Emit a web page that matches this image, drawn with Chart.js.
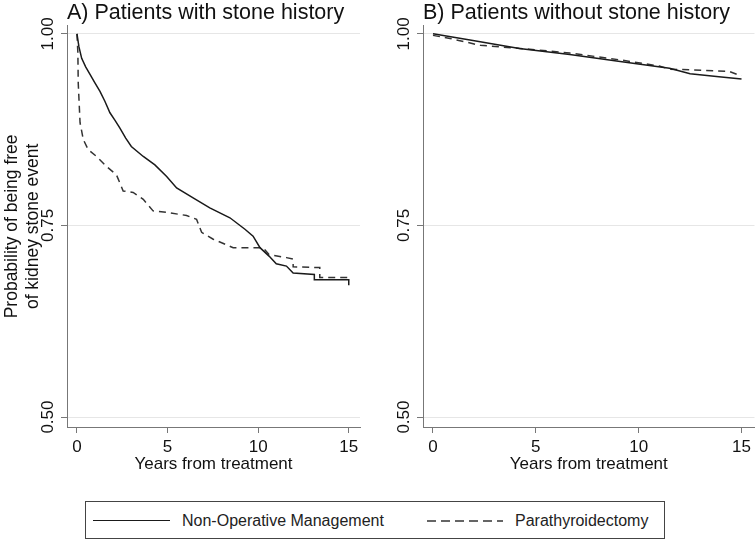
<!DOCTYPE html>
<html>
<head>
<meta charset="utf-8">
<script src="https://cdn.jsdelivr.net/npm/chart.js@4/dist/chart.umd.min.js"></script>
<style>
  body { margin: 0; background: #fff; font-family: "Liberation Sans", Arial, sans-serif; }
  #wrap { position: relative; width: 755px; height: 542px; overflow: hidden; }
  #cA { position: absolute; left: 0; top: 0; }
  #cB { position: absolute; left: 375px; top: 0; }
  #legend { position: absolute; left: 85px; top: 501px; width: 578px; height: 36px; border: 1px solid #444; box-sizing: content-box; }
  .lg { position: absolute; top: 1px; height: 36px; line-height: 36px; font-size: 16px; color: #222; white-space: nowrap; }
  .ls { position: absolute; top: 18px; height: 0; }
</style>
</head>
<body>
<div id="wrap">
  <canvas id="cA" width="375" height="475"></canvas>
  <canvas id="cB" width="380" height="475"></canvas>
  <div id="legend">
    <div class="ls" style="left:7px;width:77px;border-top:1.5px solid #1a1a1a;"></div>
    <div class="lg" style="left:96px;">Non-Operative Management</div>
    <svg style="position:absolute;left:341px;top:11px" width="76" height="16"><line x1="0" y1="8" x2="76" y2="8" stroke="#333" stroke-width="1.5" stroke-dasharray="9,5"/></svg>
    <div class="lg" style="left:429px;">Parathyroidectomy</div>
  </div>
</div>
<script>
// years from treatment / probability free of kidney stone event
var aNonOpT = [0, 0.11, 0.26, 0.48, 0.72, 0.99, 1.27, 1.54, 1.82, 2.1, 2.37, 2.69, 3.0, 3.66, 4.3, 4.95, 5.5, 6.41, 7.33, 8.44, 9.27, 9.72, 10.1, 10.6, 11.0, 11.56, 11.93, 13.1, 13.1, 15.0, 15.0];
var aNonOpS = [1.00, 0.983, 0.968, 0.957, 0.947, 0.936, 0.925, 0.912, 0.897, 0.887, 0.877, 0.864, 0.853, 0.840, 0.829, 0.814, 0.799, 0.786, 0.773, 0.760, 0.745, 0.736, 0.721, 0.710, 0.700, 0.697, 0.688, 0.686, 0.679, 0.679, 0.672];
var aPtxT = [0, 0.05, 0.07, 0.17, 0.35, 0.62, 1.08, 1.63, 2.18, 2.55, 3.1, 3.66, 4.2, 4.95, 6.05, 6.6, 6.88, 7.52, 8.62, 10.27, 10.6, 11.56, 11.93, 11.93, 13.4, 13.4, 15.0];
var aPtxS = [1.00, 0.975, 0.936, 0.884, 0.862, 0.849, 0.840, 0.827, 0.816, 0.795, 0.793, 0.784, 0.769, 0.767, 0.763, 0.758, 0.741, 0.732, 0.721, 0.721, 0.712, 0.708, 0.706, 0.696, 0.695, 0.682, 0.682];
var bNonOpT = [0, 1.8, 4.2, 6.65, 9.1, 11.5, 12.5, 13.9, 15.0];
var bNonOpS = [1.000, 0.992, 0.981, 0.973, 0.964, 0.955, 0.948, 0.944, 0.941];
var bPtxT = [0, 0.83, 2.3, 4.7, 6.65, 9.1, 11.0, 11.5, 14.4, 14.9, 15.0];
var bPtxS = [0.998, 0.994, 0.985, 0.980, 0.975, 0.966, 0.958, 0.954, 0.951, 0.946, 0.946];

var xTicks = [0, 5, 10, 15];
var yTicks = [0.50, 0.75, 1.00];
var seriesNames = ["Non-Operative Management", "Parathyroidectomy"];

var FONT = "'Liberation Sans', Arial, sans-serif";

function pts(t, s) {
  return t.map(function (v, i) { return { x: v, y: s[i] }; });
}

// y tick labels turned 90 degrees, centred on their ticks
var rotYLabels = {
  id: 'rotYLabels',
  afterDraw: function (chart) {
    var y = chart.scales.y, c = chart.ctx;
    c.save();
    c.fillStyle = "#111";
    c.font = "17px " + FONT;
    c.textAlign = "center";
    c.textBaseline = "middle";
    yTicks.forEach(function (v) {
      c.save();
      c.translate(chart.chartArea.left - 19, y.getPixelForValue(v));
      c.rotate(-Math.PI / 2);
      c.fillText(v.toFixed(2), 0, 0);
      c.restore();
    });
    c.restore();
  }
};

function makeChart(id, title, nonop, ptx, yWidth, xMin, xMax, showYTitle) {
  var ctx = document.getElementById(id).getContext("2d");
  return new Chart(ctx, {
    type: 'line',
    data: {
      datasets: [{
        label: seriesNames[0],
        data: nonop,
        borderColor: "#1a1a1a",
        borderWidth: 1.5,
        pointRadius: 0,
        tension: 0
      }, {
        label: seriesNames[1],
        data: ptx,
        borderColor: "#333",
        borderWidth: 1.5,
        borderDash: [7, 5],
        pointRadius: 0,
        tension: 0
      }]
    },
    plugins: [rotYLabels],
    options: {
      responsive: false,
      animation: false,
      layout: { padding: { top: 0, right: id === "cA" ? 15 : 0, bottom: 0, left: 0 } },
      plugins: {
        legend: { display: false },
        tooltip: { enabled: false },
        title: {
          display: true,
          text: title,
          align: 'start',
          fullSize: false,
          color: "#111",
          font: { family: FONT, size: 21.5, weight: 'normal', lineHeight: 1.2 },
          padding: { top: 0, bottom: 0 }
        }
      },
      scales: {
        x: {
          type: 'linear',
          min: xMin,
          max: xMax,
          afterBuildTicks: function (s) { s.ticks = xTicks.map(function (v) { return { value: v }; }); },
          afterFit: function (s) { s.height = 48; },
          ticks: { color: "#111", font: { family: FONT, size: 17 }, padding: 4, maxRotation: 0 },
          grid: { drawOnChartArea: false, drawTicks: true, tickLength: 6, tickColor: "#777" },
          border: { color: "#777", width: 1 },
          title: { display: true, text: "Years from treatment", color: "#111", font: { family: FONT, size: 17, lineHeight: 1.2 }, padding: 0 }
        },
        y: {
          type: 'linear',
          min: 0.487,
          max: 1.0105,
          afterBuildTicks: function (s) { s.ticks = yTicks.map(function (v) { return { value: v }; }); },
          afterFit: function (s) { s.width = yWidth; },
          ticks: { display: false },
          grid: { color: "#e6e6e6", tickLength: 6, tickColor: "#777" },
          border: { color: "#777", width: 1 },
          title: {
            display: showYTitle,
            text: ["Probability of being free", "of kidney stone event"],
            color: "#111",
            font: { family: FONT, size: 17.5, lineHeight: 1.2 },
            padding: { top: 2, bottom: 0 }
          }
        }
      }
    }
  });
}

makeChart("cA", "A) Patients with stone history", pts(aNonOpT, aNonOpS), pts(aPtxT, aPtxS), 67, -0.55, 15.62, true);
makeChart("cB", "B) Patients without stone history", pts(bNonOpT, bNonOpS), pts(bPtxT, bPtxS), 48, -0.485, 15.63, false);
</script>
</body>
</html>
